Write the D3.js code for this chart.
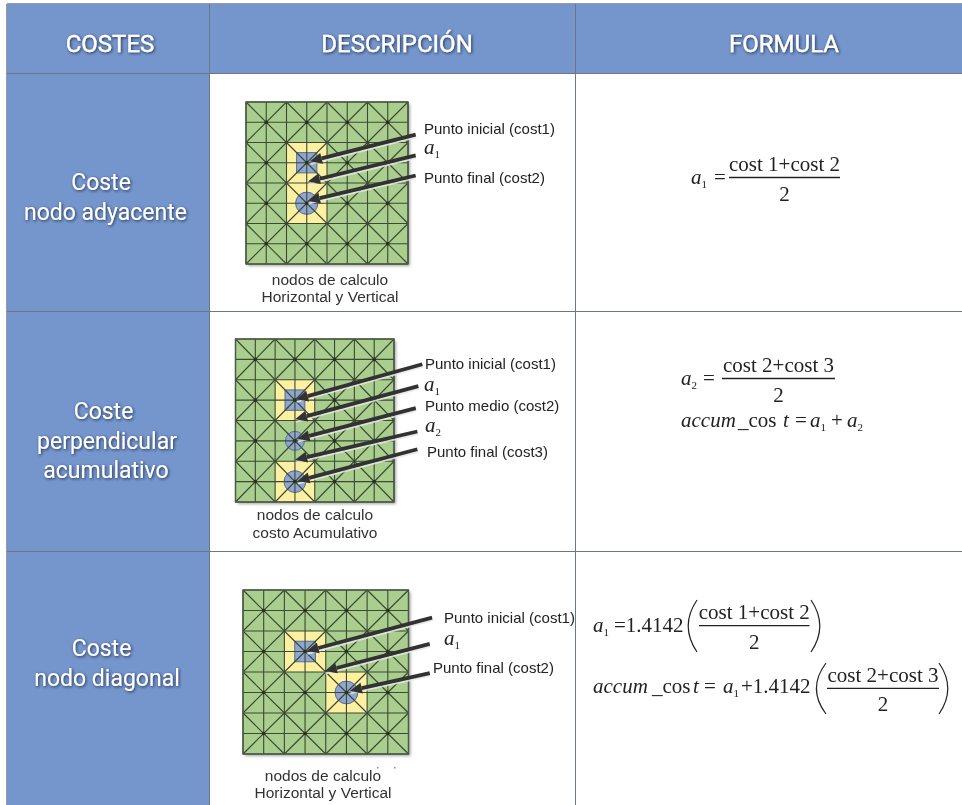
<!doctype html>
<html lang="es">
<head>
<meta charset="utf-8">
<title>Costes</title>
<style>
	html, body { margin: 0; padding: 0; background: #fff; }
	svg { display: block; }
	.head { font-family: Roboto, sans-serif; font-size: 24px; fill: #fff; stroke: #fff; stroke-width: 0.3; text-anchor: middle; }
	.side { font-family: Roboto, sans-serif; font-size: 23px; fill: #fff; text-anchor: middle; }
	.note { font-family: "Liberation Sans", sans-serif; font-size: 15px; fill: #222; }
	.cap { font-family: "Liberation Sans", sans-serif; font-size: 15.5px; fill: #333; text-anchor: middle; }
	.math { font-family: "Liberation Serif", serif; font-size: 21px; fill: #222; }
	.mathi { font-style: italic; }
</style>
</head>
<body>
<svg id="chart" width="962" height="805"></svg>
<script src="https://cdn.jsdelivr.net/npm/d3@7/dist/d3.min.js"></script>
<script>
	// table text
	var headers = ["COSTES", "DESCRIPCIÓN", "FORMULA"];
	var rowTitles = [
		["Coste", "nodo adyacente"],
		["Coste", "perpendicular", "acumulativo"],
		["Coste", "nodo diagonal"]
	];
	var captions = [
		["nodos de calculo", "Horizontal y Vertical"],
		["nodos de calculo", "costo Acumulativo"],
		["nodos de calculo", "Horizontal y Vertical"]
	];
	var callouts = [
		["Punto inicial (cost1)", "a1", "Punto final (cost2)"],
		["Punto inicial (cost1)", "a1", "Punto medio (cost2)", "a2", "Punto final (cost3)"],
		["Punto inicial (cost1)", "a1", "Punto final (cost2)"]
	];

	// the diagrams, all in grid cell units (grid is 8 x 8)
	var yellowBlocks = [
		[[2, 2, 2, 4]],
		[[2, 2, 2, 2], [2, 6, 2, 2]],
		[[2, 2, 2, 2], [4, 4, 2, 2]]
	];
	var squareNodes = [[[3, 3]], [[3, 3]], [[3, 3]]];
	var circleNodes = [
		[[3, 5, 0.55]],
		[[3, 5, 0.48], [3, 7, 0.55]],
		[[5, 5, 0.55]]
	];
	var arrows = [
		[[8.38, 1.61, 3.16, 2.93], [8.38, 2.64, 3.06, 3.93], [8.38, 3.63, 3.06, 4.88]],
		[[9.43, 1.24, 3.06, 2.96], [9.23, 2.31, 3.01, 3.94], [9.10, 3.39, 3.13, 4.90], [9.18, 4.54, 3.01, 5.93], [9.18, 5.41, 3.13, 6.97]],
		[[9.14, 1.35, 3.08, 2.98], [9.03, 2.63, 3.96, 3.95], [9.03, 4.06, 5.17, 4.91]]
	];
	var cells = d3.range(0, 9);
	var blocks = d3.range(0, 8, 2);

	// layout
	var colEdges = [7, 210, 576, 962];
	var rowEdges = [4, 73, 311, 551, 805];
	var gridBoxes = [
		{ x: [246, 408], y: [102, 264] },
		{ x: [235.5, 394], y: [339, 502] },
		{ x: [243, 408.5], y: [590, 754] }
	];
	var headCenters = [110, 397, 784];
	var headBase = 52;
	var sideCenters = [[101, 105.5], [103.5, 107, 106], [101.5, 107]];
	var sideBases = [[190, 220], [419, 449, 478], [656, 686]];
	var capCenters = [330, 315, 323];
	var capBases = [[285, 302], [520, 538], [781, 798]];
	var noteSpots = [
		[[424, 134], [424, 154], [424, 183]],
		[[425, 369], [424, 391], [425, 411], [425, 432], [427, 457]],
		[[444, 623], [444, 645], [433, 673]]
	];

	var svg = d3.select("#chart");
	var defs = svg.append("defs");

	defs.append("filter").attr("id", "soft")
		.append("feGaussianBlur").attr("stdDeviation", 0.45);

	var glow = defs.append("filter").attr("id", "glow")
		.attr("x", "-10%").attr("y", "-30%").attr("width", "120%").attr("height", "160%");
	glow.append("feDropShadow")
		.attr("dx", 1).attr("dy", 1).attr("stdDeviation", 1.5)
		.attr("flood-color", "#16233f").attr("flood-opacity", 0.9);

	var drop = defs.append("filter").attr("id", "drop")
		.attr("x", "-5%").attr("y", "-5%").attr("width", "110%").attr("height", "110%");
	drop.append("feDropShadow")
		.attr("dx", 2).attr("dy", 2).attr("stdDeviation", 1.5)
		.attr("flood-color", "#000").attr("flood-opacity", 0.35);

	// table background and rules
	svg.append("rect")
		.attr("x", colEdges[0]).attr("y", rowEdges[0])
		.attr("width", colEdges[3] - colEdges[0]).attr("height", rowEdges[1] - rowEdges[0])
		.attr("fill", "#7596cc");
	svg.append("rect")
		.attr("x", colEdges[0]).attr("y", rowEdges[1])
		.attr("width", colEdges[1] - colEdges[0]).attr("height", rowEdges[4] - rowEdges[1])
		.attr("fill", "#7596cc");

	var rules = svg.append("g").attr("stroke", "#6d7684").attr("stroke-width", 1).attr("shape-rendering", "crispEdges");
	rules.append("line").attr("x1", colEdges[0]).attr("x2", colEdges[3]).attr("y1", rowEdges[0] - 0.5).attr("y2", rowEdges[0] - 0.5).attr("stroke", "#9a9a9a");
	rules.append("line").attr("x1", colEdges[0] - 0.5).attr("x2", colEdges[0] - 0.5).attr("y1", rowEdges[0]).attr("y2", rowEdges[4]).attr("stroke", "#9a9a9a");
	rowEdges.slice(1, 4).forEach(function (y) {
		rules.append("line").attr("x1", colEdges[0]).attr("x2", colEdges[3]).attr("y1", y + 0.5).attr("y2", y + 0.5);
	});
	colEdges.slice(1, 3).forEach(function (x) {
		rules.append("line").attr("x1", x - 0.5).attr("x2", x - 0.5).attr("y1", rowEdges[0]).attr("y2", rowEdges[4]);
	});

	// header and side titles
	svg.selectAll(".head").data(headers).join("text")
		.attr("class", "head")
		.attr("x", function (d, i) { return headCenters[i]; })
		.attr("y", headBase)
		.attr("filter", "url(#glow)")
		.text(function (d) { return d; });

	rowTitles.forEach(function (lines, r) {
		svg.append("g").selectAll("text").data(lines).join("text")
			.attr("class", "side")
			.attr("x", function (d, i) { return sideCenters[r][i]; })
			.attr("y", function (d, i) { return sideBases[r][i]; })
			.attr("filter", "url(#glow)")
			.text(function (d) { return d; });
	});

	// diagrams
	function drawArrow(g, x, y, a) {
		var x0 = x(a[0]), y0 = y(a[1]), x1 = x(a[2]), y1 = y(a[3]);
		var len = Math.hypot(x1 - x0, y1 - y0), ux = (x1 - x0) / len, uy = (y1 - y0) / len;
		var bx = x1 - ux * 12, by = y1 - uy * 12;

		// pale halo under the shaft
		g.append("line")
			.attr("x1", x0 + 0.6).attr("y1", y0 + 2.6).attr("x2", x1 + 0.6).attr("y2", y1 + 2.6)
			.attr("stroke", "#e8e8e8").attr("stroke-opacity", 0.85).attr("stroke-width", 2);
		g.append("line")
			.attr("x1", x0).attr("y1", y0).attr("x2", bx).attr("y2", by)
			.attr("stroke", "#333").attr("stroke-width", 3.8);
		var head = d3.path();
		head.moveTo(x1, y1);
		head.lineTo(bx - uy * 5.5, by + ux * 5.5);
		head.lineTo(bx + uy * 5.5, by - ux * 5.5);
		head.closePath();
		g.append("path").attr("d", head.toString()).attr("fill", "#333");
	}

	gridBoxes.forEach(function (box, n) {
		var x = d3.scaleLinear().domain([0, 8]).range(box.x);
		var y = d3.scaleLinear().domain([0, 8]).range(box.y);
		var g = svg.append("g").attr("filter", "url(#soft)");

		g.append("rect")
			.attr("x", x(0)).attr("y", y(0))
			.attr("width", x(8) - x(0)).attr("height", y(8) - y(0))
			.attr("fill", "#a9ce8d")
			.attr("filter", "url(#drop)");

		g.append("g").selectAll("rect").data(yellowBlocks[n]).join("rect")
			.attr("x", function (d) { return x(d[0]); })
			.attr("y", function (d) { return y(d[1]); })
			.attr("width", function (d) { return x(d[2]) - x(0); })
			.attr("height", function (d) { return y(d[3]) - y(0); })
			.attr("fill", "#fdf0a0");

		g.append("g").selectAll("rect").data(squareNodes[n]).join("rect")
			.attr("x", function (d) { return x(d[0] - 0.5); })
			.attr("y", function (d) { return y(d[1] - 0.5); })
			.attr("width", x(1) - x(0))
			.attr("height", y(1) - y(0))
			.attr("fill", "#8ea6d0")
			.attr("stroke", "#5a6c8c");

		g.append("g").selectAll("circle").data(circleNodes[n]).join("circle")
			.attr("cx", function (d) { return x(d[0]); })
			.attr("cy", function (d) { return y(d[1]); })
			.attr("r", function (d) { return d[2] * (x(1) - x(0)); })
			.attr("fill", "#8ea6d0")
			.attr("stroke", "#5a6c8c");

		var net = g.append("g").attr("stroke", "#3a4834").attr("stroke-width", 1.1).attr("fill", "none");
		net.selectAll(".v").data(cells).join("line").attr("class", "v")
			.attr("x1", function (d) { return x(d); }).attr("x2", function (d) { return x(d); })
			.attr("y1", y(0)).attr("y2", y(8));
		net.selectAll(".h").data(cells).join("line").attr("class", "h")
			.attr("y1", function (d) { return y(d); }).attr("y2", function (d) { return y(d); })
			.attr("x1", x(0)).attr("x2", x(8));

		// an X over every 2 x 2 block, with a node dot in the middle
		blocks.forEach(function (c) {
			blocks.forEach(function (r) {
				net.append("line").attr("x1", x(c)).attr("y1", y(r)).attr("x2", x(c + 2)).attr("y2", y(r + 2));
				net.append("line").attr("x1", x(c + 2)).attr("y1", y(r)).attr("x2", x(c)).attr("y2", y(r + 2));
				g.append("circle").attr("cx", x(c + 1)).attr("cy", y(r + 1)).attr("r", 1.8).attr("fill", "#26301f");
			});
		});

		g.append("rect")
			.attr("x", x(0)).attr("y", y(0))
			.attr("width", x(8) - x(0)).attr("height", y(8) - y(0))
			.attr("fill", "none").attr("stroke", "#4a5a44").attr("stroke-width", 1.4);

		arrows[n].forEach(function (a) { drawArrow(g, x, y, a); });

		// callout texts
		callouts[n].forEach(function (t, i) {
			var spot = noteSpots[n][i];
			if (t.charAt(0) === "a") {
				var tx = svg.append("text").attr("class", "math").attr("x", spot[0]).attr("y", spot[1]).attr("filter", "url(#soft)");
				tx.append("tspan").attr("class", "mathi").text("a");
				tx.append("tspan").attr("font-size", 11).attr("dy", 4).text(t.slice(1));
			} else {
				svg.append("text").attr("class", "note").attr("x", spot[0]).attr("y", spot[1]).attr("filter", "url(#soft)").text(t);
			}
		});

		captions[n].forEach(function (t, i) {
			svg.append("text").attr("class", "cap")
				.attr("x", capCenters[n]).attr("y", capBases[n][i])
				.attr("filter", "url(#soft)")
				.text(t);
		});
	});

	// the two specks above the last caption
	svg.append("g").attr("fill", "#888").selectAll("rect").data([377, 394]).join("rect")
		.attr("x", function (d) { return d; }).attr("y", 767).attr("width", 1.5).attr("height", 1.5);

	// formulas
	var math = svg.append("g").attr("filter", "url(#soft)");

	function mathText(x, y, parts, anchor) {
		var t = math.append("text").attr("class", "math").attr("x", x).attr("y", y);
		if (anchor) t.attr("text-anchor", anchor);
		parts.forEach(function (p) {
			var s = t.append("tspan").text(p[0]);
			if (p[1] === "i") s.attr("class", "mathi");
			if (p[1] === "s") s.attr("font-size", 11).attr("dy", 4);
		});
		return t;
	}

	function fraction(x0, x1, barY, top, bottom) {
		math.append("line").attr("x1", x0).attr("x2", x1).attr("y1", barY).attr("y2", barY)
			.attr("stroke", "#222").attr("stroke-width", 1.3);
		mathText((x0 + x1) / 2, barY - 6.5, [[top]], "middle");
		mathText((x0 + x1) / 2, barY + 23, [[bottom]], "middle");
	}

	function paren(x0, x1, y0, y1) {
		var p = d3.path();
		p.moveTo(x1, y0);
		p.quadraticCurveTo(x0 - (x1 - x0) * 0.6, (y0 + y1) / 2, x1, y1);
		math.append("path").attr("d", p.toString()).attr("fill", "none").attr("stroke", "#222").attr("stroke-width", 1.2);
	}

	mathText(691, 184, [["a", "i"], ["1", "s"]]);
	mathText(714, 184, [["="]]);
	fraction(729, 840, 177.5, "cost 1+cost 2", "2");

	mathText(681, 385, [["a", "i"], ["2", "s"]]);
	mathText(703, 385, [["="]]);
	fraction(722, 835, 378.5, "cost 2+cost 3", "2");

	mathText(681, 427, [["accum", "i"]]);
	mathText(738, 427, [["_cos"]]);
	mathText(783, 427, [["t", "i"]]);
	mathText(795, 427, [["="]]);
	mathText(810, 427, [["a", "i"], ["1", "s"]]);
	mathText(831, 427, [["+"]]);
	mathText(847, 427, [["a", "i"], ["2", "s"]]);

	mathText(593, 632, [["a", "i"], ["1", "s"]]);
	mathText(614, 632, [["=1.4142"]]);
	paren(686, 697, 600, 652);
	fraction(699, 809.5, 625.7, "cost 1+cost 2", "2");
	paren(822, 811, 600, 652);

	mathText(593, 693, [["accum", "i"]]);
	mathText(652, 693, [["_cos"]]);
	mathText(693, 693, [["t", "i"]]);
	mathText(704, 693, [["="]]);
	mathText(723, 693, [["a", "i"], ["1", "s"]]);
	mathText(741, 693, [["+1.4142"]]);
	paren(814, 826, 663, 714);
	fraction(827, 939, 688.3, "cost 2+cost 3", "2");
	paren(950, 939, 663, 714);
</script>
</body>
</html>
